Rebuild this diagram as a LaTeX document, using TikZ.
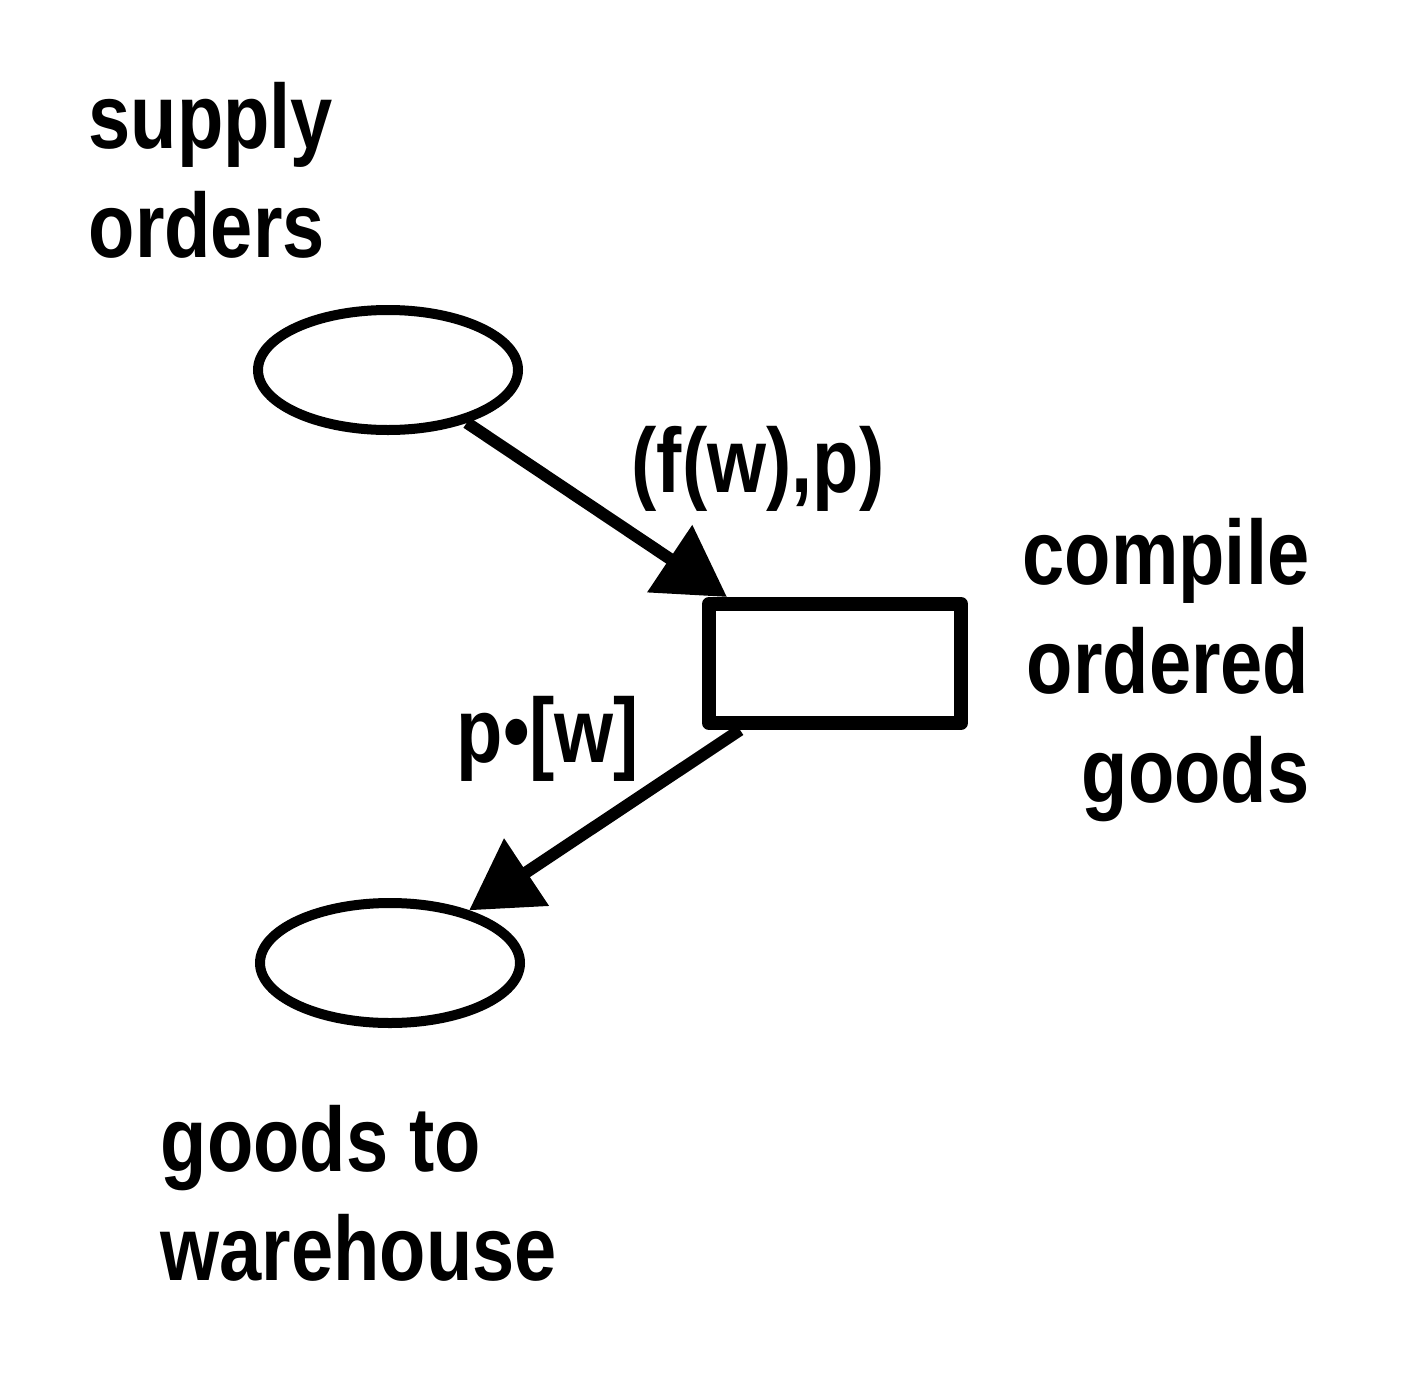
\documentclass[tikz,border=0pt]{standalone}
\usepackage{fontspec}
\setmainfont{Liberation Sans}[FakeStretch=0.83]
\usetikzlibrary{positioning}
\usetikzlibrary{arrows.meta}
\usetikzlibrary{shapes.geometric}
\tikzset{
    petri net/.style={
            every node/.style={font=\fontsize{26}{31}\selectfont\bfseries},
            place/.style={draw,ellipse,line width=0.1cm,minimum width=2.6cm,minimum height=1.2cm,inner sep=0pt},
            transition/.style={draw,rectangle,line width=0.14cm,minimum width=2.52cm,minimum height=1.19cm,inner sep=0pt,line join=round},
            arc/.style={line width=0.12cm,-{Triangle[length=0.69cm,width=0.78cm]}},
            lbl/.style={align=left,inner sep=0pt}
        }
    }

\begin{document}
\begin{tikzpicture}[petri net]
                \useasboundingbox (0,0) rectangle (14.2,13.87);
                \node (so) [place] at (3.88,10.17) {};
                \node (cog) [transition] at (8.35,7.235) {};
                \node (gw) [place] at (3.90,4.24) {};
                \node (soL) [lbl,anchor=base west] at (0.88,11.30) {supply\\orders};
                \node (cogL) [lbl,align=right,anchor=base east] at (13.10,5.85) {compile\\ordered\\goods};
                \node (gwL) [lbl,anchor=base west] at (1.60,1.07) {goods to\\warehouse};
                \draw [arc] (so) -- ([xshift=0.25cm]cog.north west) coordinate (in);
                \draw [arc] ([xshift=0.38cm]cog.south west) -- (gw);
                \node (inL) [lbl,anchor=base west] at (6.31,8.95) {(f(w),p)};
                \node (outL) [lbl,anchor=base west] at (4.56,6.25) {p•[w]};
            \end{tikzpicture}
\end{document}
